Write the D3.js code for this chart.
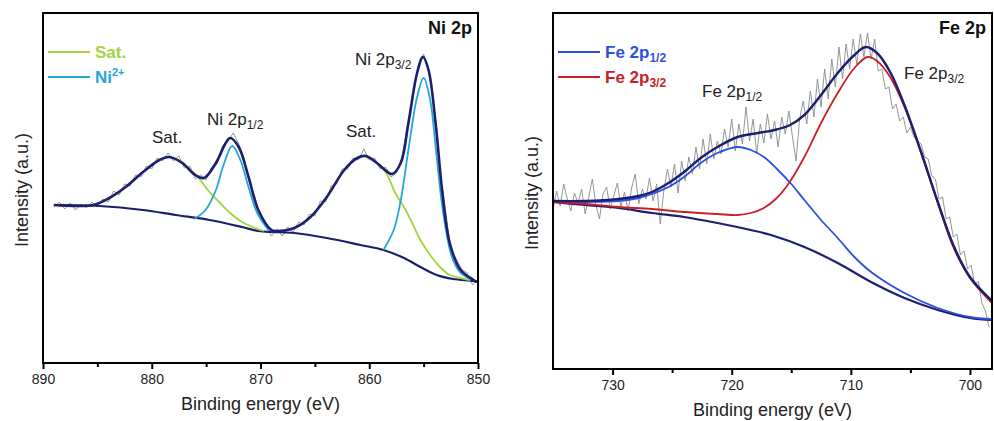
<!DOCTYPE html>
<html lang="en">
  <head>
    <meta charset="UTF-8" />
    <title>Ni 2p / Fe 2p XPS</title>
    <style>
      html,
      body {
        margin: 0;
        background: #ffffff;
      }
      svg {
        display: block;
        font-family: "Liberation Sans", Arial, sans-serif;
      }
    </style>
    <script src="https://cdn.jsdelivr.net/npm/d3@7"></script>
  </head>

  <body>
    <svg id="chart" width="994" height="421"></svg>

    <script>
      // ---- Ni 2p data (binding energy eV, intensity a.u.) ----
      const niRawStart = 889;
      const niRawStep = 0.5;
      const niRaw = [
        158, 163, 156, 162, 155, 161, 157, 163, 158, 166, 163, 174, 170, 181,
        179, 190, 188, 199, 196, 207, 204, 212, 204, 209, 197, 199, 186, 190,
        185, 198, 201, 219, 224, 232, 221, 206, 182, 168, 147, 142, 129, 136,
        129, 138, 133, 143, 140, 151, 149, 164, 163, 179, 181, 196, 196, 207,
        205, 216, 205, 207, 196, 198, 188, 192, 208, 238, 268, 300, 311, 293,
        254, 193, 156, 115, 106, 96, 92, 80, 86,
      ];
      const niBackground = [
        [889, 160], [884.8, 159], [880.8, 155], [877.8, 150], [874.7, 145],
        [871.7, 138], [870.2, 134], [868.9, 133], [866.9, 132], [863.9, 127],
        [860.8, 120], [858.7, 115], [856.8, 107], [855.3, 98], [853.8, 90],
        [852.3, 86], [850.4, 84], [850.1, 83],
      ];
      const niEnvelope = [
        [889, 160], [885.4, 160], [883.9, 167], [882.4, 178], [880.8, 193],
        [879.3, 205], [878.4, 208], [877.2, 202], [876.0, 190], [875.2, 187],
        [874.1, 202], [873.2, 222], [872.8, 227], [872.0, 218], [871.1, 188],
        [870.2, 155], [869.0, 135], [868.5, 134], [866.9, 137], [865.4, 148],
        [863.9, 168], [862.3, 195], [861.1, 207], [860.3, 209], [859.3, 202],
        [857.9, 191], [857.1, 202], [856.4, 242], [855.6, 292], [855.06, 308],
        [854.55, 295], [853.9, 242], [853.3, 175], [852.6, 122], [851.6, 95],
        [850.4, 85], [850.1, 83],
      ];
      const niSat1 = [
        [877.2, 203], [876.1, 192], [875.4, 183], [874.7, 173], [873.8, 163],
        [872.9, 153], [871.7, 143], [870.5, 137], [869.7, 134],
      ];
      const niSat2 = [
        [860.3, 208], [859.3, 202], [858.5, 193], [857.6, 172], [856.8, 158],
        [856.1, 143], [855.3, 125], [854.4, 110], [853.5, 98], [852.6, 90],
        [851.6, 87], [850.7, 85],
      ];
      const niPeak1 = [
        [876.1, 146], [875.05, 155], [874.1, 175], [873.4, 200], [872.6, 219],
        [871.85, 205], [871.1, 178], [870.3, 152], [869.2, 134],
      ];
      const niPeak2 = [
        [858.7, 115], [857.75, 135], [857.1, 165], [856.4, 215], [855.6, 268],
        [855.0, 287], [854.4, 265], [853.8, 208], [853.2, 152], [852.4, 108],
        [851.6, 92], [850.7, 86],
      ];
      const niMajor = [890, 880, 870, 860, 850];
      const niMinor = [885, 875, 865, 855];

      // ---- Fe 2p data ----
      const feRawStart = 735;
      const feRawStep = 0.3;
      const feRaw = [
        160, 178, 163, 185, 170, 158, 176, 166, 180, 155, 172, 190, 164, 150,
        175, 182, 160, 173, 186, 162, 177, 158, 181, 195, 165, 180, 170, 191,
        168, 185, 145, 178, 200, 182, 205, 176, 208, 188, 212, 195, 222, 200,
        230, 205, 235, 210, 228, 215, 240, 222, 250, 218, 245, 225, 262, 228,
        250, 215, 245, 226, 255, 230, 248, 222, 252, 235, 258, 232, 208, 250,
        268, 245, 278, 252, 290, 262, 300, 270, 310, 282, 322, 290, 325, 300,
        330, 305, 335, 312, 336, 310, 330, 298, 300, 280, 282, 260, 265, 248,
        252, 236, 242, 232, 228, 225, 212, 210, 193, 190, 170, 172, 150, 152,
        132, 135, 114, 118, 100, 104, 84, 88, 66, 58, 42,
      ];
      const feBackground = [
        [735, 167], [732.3, 164], [729.5, 161], [726.7, 156], [724, 152],
        [721.2, 146], [718.4, 139], [716.7, 134], [713.9, 122], [711.1, 106],
        [708.3, 87], [705.5, 71], [702.7, 59], [700, 51], [698.15, 49],
      ];
      const feP12 = [
        [735, 167], [732.3, 167], [729.5, 168], [727.8, 171], [726.7, 175],
        [725.3, 182], [724, 192], [722.6, 206], [721.2, 216], [719.5, 222],
        [718.4, 219], [717.3, 212], [716.2, 200], [715, 185], [713.9, 169],
        [712.5, 149], [711.1, 131], [709.7, 112], [708.3, 97], [705.5, 76],
        [702.7, 61], [700, 52], [698.15, 50],
      ];
      const feP32 = [
        [735, 167], [732.3, 165], [729.5, 162], [726.7, 160], [724, 157],
        [721.2, 155], [719.5, 154], [718.4, 156], [717.3, 161], [716.3, 170],
        [715.3, 184], [713.9, 212], [712.5, 246], [711.1, 276], [709.7, 301],
        [708.6, 312], [707.8, 308], [706.7, 292], [705.5, 262], [704.1, 216],
        [702.7, 166], [701.4, 122], [700, 91], [698.15, 66],
      ];
      const feEnvelope = [
        [735, 168], [732.3, 168], [729.5, 170], [727.8, 173], [726.7, 177],
        [725.3, 186], [724, 197], [722.6, 211], [721.2, 222], [719.5, 232],
        [717.8, 236], [716.4, 239], [715.1, 244], [713.9, 254], [712.5, 274],
        [711.1, 296], [709.7, 314], [708.75, 322], [707.8, 316], [706.7, 297],
        [705.5, 264], [704.1, 217], [702.7, 167], [701.4, 124], [700, 92],
        [698.15, 68],
      ];
      const feMajor = [730, 720, 710, 700];
      const feMinor = [725, 715, 705];

      const NAVY = "#1c1f6e";
      const GREEN = "#a2d43c";
      const CYAN = "#25a5d8";
      const BLUE = "#2c4fe2";
      const RED = "#c91f26";
      const GRAY = "#8a8a8a";

      const svg = d3.select("#chart");
      svg.append("rect").attr("width", 994).attr("height", 421).attr("fill", "#fff");

      function panel(opt) {
        const x = d3.scaleLinear().domain(opt.xDomain).range([opt.left, opt.right]);
        const y = d3.scaleLinear().domain(opt.yDomain).range([opt.bottom, opt.top]);
        const g = svg.append("g");

        g.append("clipPath")
          .attr("id", opt.id + "-clip")
          .append("rect")
          .attr("x", opt.left)
          .attr("y", opt.top)
          .attr("width", opt.right - opt.left)
          .attr("height", opt.bottom - opt.top);

        const plot = g.append("g").attr("clip-path", `url(#${opt.id}-clip)`);

        // raw spectrum
        const raw = opt.raw.map((v, i) => [opt.rawStart - i * opt.rawStep, v]);
        plot.append("path")
          .datum(raw)
          .attr("fill", "none")
          .attr("stroke", GRAY)
          .attr("stroke-width", 0.9)
          .attr("d", d3.line().x((d) => x(d[0])).y((d) => y(d[1])));

        const smooth = d3
          .line()
          .curve(d3.curveCatmullRom.alpha(0.5))
          .x((d) => x(d[0]))
          .y((d) => y(d[1]));

        opt.series.forEach((s) => {
          plot.append("path")
            .datum(s.data)
            .attr("fill", "none")
            .attr("stroke", s.color)
            .attr("stroke-width", s.width)
            .attr("stroke-linejoin", "round")
            .attr("d", smooth);
        });

        // frame
        g.append("rect")
          .attr("x", opt.left)
          .attr("y", opt.top)
          .attr("width", opt.right - opt.left)
          .attr("height", opt.bottom - opt.top)
          .attr("fill", "none")
          .attr("stroke", "#000")
          .attr("stroke-width", 2);

        // bottom axis, major + minor ticks outward
        const axis = g.append("g").attr("transform", `translate(0,${opt.bottom})`);
        axis.call(
          d3.axisBottom(x).tickValues(opt.major).tickSize(6).tickPadding(5).tickFormat(d3.format("d"))
        );
        axis.append("g").call(d3.axisBottom(x).tickValues(opt.minor).tickSize(4).tickFormat(""));
        axis.selectAll(".domain").remove();
        axis.selectAll("line").attr("stroke", "#000").attr("stroke-width", 2);
        axis.selectAll("text")
          .attr("font-size", 14)
          .attr("fill", "#222")
          .attr("font-family", "Liberation Sans, Arial, sans-serif");

        g.append("text")
          .attr("x", (opt.left + opt.right) / 2)
          .attr("y", opt.bottom + 47)
          .attr("text-anchor", "middle")
          .attr("font-size", 18)
          .attr("fill", "#222")
          .text("Binding energy (eV)");

        g.append("text")
          .attr("transform", `translate(${opt.left - 15},${(opt.top + opt.bottom) / 2 + 2}) rotate(-90)`)
          .attr("text-anchor", "middle")
          .attr("font-size", 18)
          .attr("fill", "#222")
          .text("Intensity (a.u.)");

        // panel title
        g.append("text")
          .attr("x", opt.right - 6)
          .attr("y", opt.top + 21)
          .attr("text-anchor", "end")
          .attr("font-size", 18)
          .attr("font-weight", "bold")
          .attr("fill", "#111")
          .text(opt.title);

        // legend
        opt.legend.forEach((l, i) => {
          const ly = opt.top + 39 + i * 25;
          g.append("line")
            .attr("x1", opt.left + 5)
            .attr("x2", opt.left + 47)
            .attr("y1", ly)
            .attr("y2", ly)
            .attr("stroke", l.color)
            .attr("stroke-width", 2);
          const t = g.append("text")
            .attr("x", opt.left + 52)
            .attr("y", ly + 6)
            .attr("font-size", 17)
            .attr("font-weight", "bold")
            .attr("fill", l.color);
          l.parts(t);
        });

        // peak labels
        opt.labels.forEach((l) => {
          const t = g.append("text")
            .attr("x", l.x)
            .attr("y", l.y)
            .attr("font-size", 17)
            .attr("fill", "#222");
          t.append("tspan").text(l.text);
          if (l.sub) {
            t.append("tspan").attr("font-size", 12).attr("dy", 4).text(l.sub);
          }
        });
      }

      const subPart = (main, sub) => (t) => {
        t.append("tspan").text(main);
        t.append("tspan").attr("font-size", 12).attr("dy", 4).text(sub);
      };

      panel({
        id: "ni",
        left: 43,
        right: 478,
        top: 13,
        bottom: 363,
        xDomain: [890, 850],
        yDomain: [2, 352],
        raw: niRaw,
        rawStart: niRawStart,
        rawStep: niRawStep,
        series: [
          { data: niBackground, color: NAVY, width: 2.2 },
          { data: niSat1, color: GREEN, width: 1.8 },
          { data: niSat2, color: GREEN, width: 1.8 },
          { data: niPeak1, color: CYAN, width: 1.8 },
          { data: niPeak2, color: CYAN, width: 1.8 },
          { data: niEnvelope, color: NAVY, width: 2.6 },
        ],
        major: niMajor,
        minor: niMinor,
        title: "Ni 2p",
        legend: [
          { color: GREEN, parts: (t) => t.text("Sat.") },
          {
            color: CYAN,
            parts: (t) => {
              t.append("tspan").text("Ni");
              t.append("tspan").attr("font-size", 11).attr("dy", -7).text("2+");
            },
          },
        ],
        labels: [
          { x: 152, y: 143, text: "Sat." },
          { x: 207, y: 125, text: "Ni 2p", sub: "1/2" },
          { x: 346, y: 137, text: "Sat." },
          { x: 355, y: 65, text: "Ni 2p", sub: "3/2" },
        ],
      });

      panel({
        id: "fe",
        left: 553,
        right: 992,
        top: 13,
        bottom: 369,
        xDomain: [735, 698.15],
        yDomain: [0, 356],
        raw: feRaw,
        rawStart: feRawStart,
        rawStep: feRawStep,
        series: [
          { data: feBackground, color: NAVY, width: 2.2 },
          { data: feP12, color: BLUE, width: 1.8 },
          { data: feP32, color: RED, width: 1.8 },
          { data: feEnvelope, color: NAVY, width: 2.4 },
        ],
        major: feMajor,
        minor: feMinor,
        title: "Fe 2p",
        legend: [
          { color: BLUE, parts: subPart("Fe 2p", "1/2") },
          { color: RED, parts: subPart("Fe 2p", "3/2") },
        ],
        labels: [
          { x: 702, y: 97, text: "Fe 2p", sub: "1/2" },
          { x: 904, y: 79, text: "Fe 2p", sub: "3/2" },
        ],
      });
    </script>
  </body>
</html>
